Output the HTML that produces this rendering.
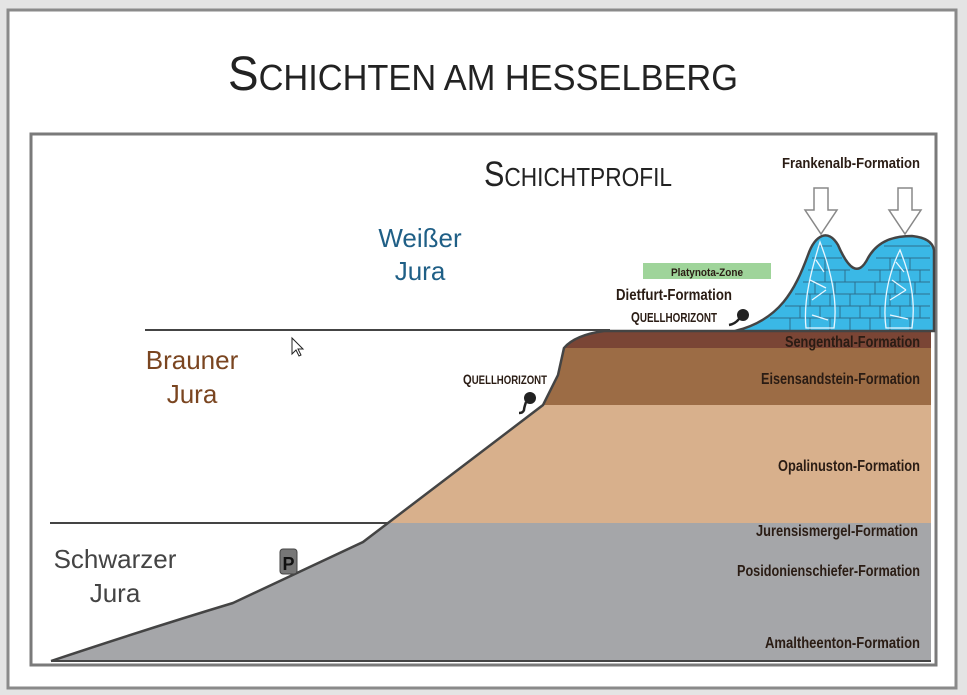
<!DOCTYPE html>
<html><head><meta charset="utf-8"><style>
html,body{margin:0;padding:0;background:#e8e8e8;width:967px;height:695px;overflow:hidden}
svg{display:block}
text{font-family:"Liberation Sans",sans-serif}
</style></head><body>
<svg width="967" height="695" viewBox="0 0 967 695">
<rect x="0" y="0" width="967" height="695" fill="#e4e4e4"/>
<rect x="8" y="10" width="948" height="678" fill="#fff" stroke="#8a8a8a" stroke-width="3"/>
<text x="483" y="90" text-anchor="middle" font-size="36" fill="#222" textLength="510" lengthAdjust="spacingAndGlyphs"><tspan font-size="48">S</tspan>CHICHTEN AM HESSELBERG</text>
<rect x="31" y="134" width="905" height="531" fill="#fff" stroke="#7a7a7a" stroke-width="3"/>
<text x="578" y="186" text-anchor="middle" font-size="26" fill="#222" textLength="188" lengthAdjust="spacingAndGlyphs"><tspan font-size="35">S</tspan>CHICHTPROFIL</text>
<line x1="145" y1="330" x2="610" y2="330" stroke="#444" stroke-width="2"/>
<line x1="50" y1="523" x2="390" y2="523" stroke="#444" stroke-width="2"/>
<path d="M51,661 Q150,628 233,603 L363,542 L388,523 L931,523 L931,661 Z" fill="#a5a6a9"/>
<path d="M388,523 L543,405 L931,405 L931,523 Z" fill="#d8b08c"/>
<path d="M543,405 L558,375 L564,348 L931,348 L931,405 Z" fill="#9c6c45"/>
<path d="M564,348 Q575,335 604,331 L931,331 L931,348 Z" fill="#7a4535"/>
<path d="M735,331 C780,320 795,290 808,255 C815,235 828,228 838,245 C848,268 858,278 868,258 C878,240 895,236 912,236 Q932,238 934,250 L934,331 Z" fill="#3ab8e6" stroke="#444" stroke-width="2.5"/>
<g stroke="#2a5d7a" stroke-width="1" fill="none" opacity="0.8">
<path d="M770,318H930M785,306H930M795,294H930M803,282H930M808,270H850M868,270H930M812,258H842M876,258H930M818,246H832M884,246H930"/>
<path d="M790,318v12M810,318v12M830,318v12M850,318v12M870,318v12M890,318v12M910,318v12M800,306v12M820,306v12M840,306v12M860,306v12M880,306v12M900,306v12M920,306v12M810,294v12M830,294v12M850,294v12M870,294v12M890,294v12M910,294v12M815,282v12M835,282v12M855,282v12M875,282v12M895,282v12M915,282v12M825,270v12M845,270v12M880,270v12M900,270v12M920,270v12M825,258v12M890,258v12M910,258v12"/>
</g>
<g stroke="#e8f6ff" stroke-width="1.3" fill="none">
<path d="M806,328 C803,300 812,268 820,242 C830,268 838,300 834,328 Z M812,300 l14,-10 M810,280 l16,8 M816,260 l8,12 M812,315 l16,5"/>
<path d="M886,328 C882,300 890,270 900,250 C910,275 916,300 912,328 Z M890,300 l16,-10 M892,280 l14,10 M896,262 l8,10 M890,315 l18,4"/>
</g>
<line x1="604" y1="331" x2="735" y2="331" stroke="#444" stroke-width="2.5"/>
<path d="M51,661 Q150,628 233,603 L363,542 L388,523 L543,405 L558,375 L564,348 Q575,335 604,331" fill="none" stroke="#444" stroke-width="2.5"/>
<line x1="51" y1="661" x2="931" y2="661" stroke="#444" stroke-width="2"/>
<path d="M814,188h14v22h9l-16,24l-16,-24h9z" fill="#fff" stroke="#888" stroke-width="1.5"/>
<path d="M898,188h14v22h9l-16,24l-16,-24h9z" fill="#fff" stroke="#888" stroke-width="1.5"/>
<g font-size="15" fill="#2a1c14" font-weight="bold">
<text x="920" y="168" text-anchor="end" textLength="138" lengthAdjust="spacingAndGlyphs">Frankenalb-Formation</text>
<rect x="643" y="263" width="128" height="16" fill="#9fd49a"/>
<text x="707" y="276" text-anchor="middle" font-size="11" textLength="72" lengthAdjust="spacingAndGlyphs">Platynota-Zone</text>
<text x="616" y="300" textLength="116" lengthAdjust="spacingAndGlyphs" font-size="16">Dietfurt-Formation</text>
<text x="631" y="322" font-size="13" textLength="86" lengthAdjust="spacingAndGlyphs"><tspan font-size="15">Q</tspan>UELLHORIZONT</text>
<text x="463" y="384" font-size="12" textLength="84" lengthAdjust="spacingAndGlyphs"><tspan font-size="14">Q</tspan>UELLHORIZONT</text>
<text x="920" y="347" text-anchor="end" font-size="16" textLength="135" lengthAdjust="spacingAndGlyphs">Sengenthal-Formation</text>
<text x="920" y="384" text-anchor="end" font-size="16" textLength="159" lengthAdjust="spacingAndGlyphs">Eisensandstein-Formation</text>
<text x="920" y="471" text-anchor="end" font-size="16" textLength="142" lengthAdjust="spacingAndGlyphs">Opalinuston-Formation</text>
<text x="918" y="536" text-anchor="end" font-size="16" textLength="162" lengthAdjust="spacingAndGlyphs">Jurensismergel-Formation</text>
<text x="920" y="576" text-anchor="end" font-size="16" textLength="183" lengthAdjust="spacingAndGlyphs">Posidonienschiefer-Formation</text>
<text x="920" y="648" text-anchor="end" font-size="16" textLength="155" lengthAdjust="spacingAndGlyphs">Amaltheenton-Formation</text>
</g>
<circle cx="743" cy="315" r="6" fill="#222"/><path d="M739,319 q-4,5 -10,6" stroke="#222" stroke-width="2.5" fill="none"/>
<circle cx="530" cy="398" r="6" fill="#222"/><path d="M526,402 q-2,6 -2,8 q-1,3 -5,3" stroke="#222" stroke-width="2.5" fill="none"/>
<g font-size="26">
<text x="420" y="247" text-anchor="middle" fill="#1f5f86">Weißer</text>
<text x="420" y="280" text-anchor="middle" fill="#1f5f86">Jura</text>
<text x="192" y="369" text-anchor="middle" fill="#7a4520">Brauner</text>
<text x="192" y="403" text-anchor="middle" fill="#7a4520">Jura</text>
<text x="115" y="568" text-anchor="middle" fill="#444">Schwarzer</text>
<text x="115" y="602" text-anchor="middle" fill="#444">Jura</text>
</g>
<rect x="280" y="549" width="17" height="25" rx="3" fill="#777" stroke="#444"/>
<text x="288.5" y="570" text-anchor="middle" font-size="18" font-weight="bold" fill="#111">P</text>
<path d="M292,338 l0,16 l4,-4 l3,6 l2,-1 l-3,-6 l5,0 z" fill="#fff" stroke="#222" stroke-width="1"/>
</svg>
</body></html>
